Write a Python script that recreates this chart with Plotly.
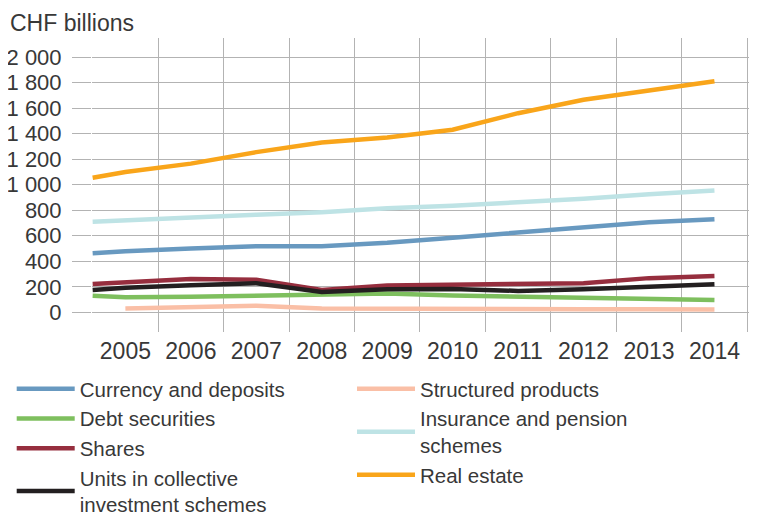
import plotly.graph_objects as go

years = [2004.5, 2005, 2006, 2007, 2008, 2009, 2010, 2011, 2012, 2013, 2014]
sp_years = [2005, 2006, 2007, 2008, 2009, 2010, 2011, 2012, 2013, 2014]

currency = [462, 478, 500, 518, 518, 545, 585, 625, 665, 705, 730]
debt = [130, 118, 122, 130, 140, 148, 132, 122, 118, 105, 97]
shares = [222, 238, 262, 255, 175, 210, 215, 215, 228, 268, 285]
units = [175, 192, 212, 228, 160, 180, 183, 168, 180, 198, 220]
structured = [30, 42, 52, 30, 27, 26, 25, 24, 24, 23]
insurance = [710, 722, 742, 765, 785, 815, 835, 860, 890, 925, 955]
real_estate = [1055, 1100, 1165, 1255, 1330, 1370, 1430, 1560, 1665, 1740, 1810]

year_ticks = [2005, 2006, 2007, 2008, 2009, 2010, 2011, 2012, 2013, 2014]
band_edges = [2004.5 + i for i in range(11)]
y_ticks = list(range(0, 2001, 200))

FONT = "Liberation Sans"
TXT = "#383838"
GRID = "#b3b3b3"

series = [
    ("Currency and deposits", years, currency, "#6899c0", "legend"),
    ("Debt securities", years, debt, "#7ebf5e", "legend"),
    ("Shares", years, shares, "#962e3e", "legend"),
    ("Units in collective<br>investment schemes", years, units, "#231f20", "legend"),
    ("Structured products", sp_years, structured, "#fabfa6", "legend2"),
    ("Insurance and pension<br>schemes", years, insurance, "#bee3e5", "legend2"),
    ("Real estate", years, real_estate, "#f9a51a", "legend2"),
]

fig = go.Figure()
for i, (name, xs, ys, col, lg) in enumerate(series):
    fig.add_trace(go.Scatter(
        x=xs, y=ys, name=name, mode="lines",
        line=dict(color=col, width=4.5),
        legend=lg, legendgroup="g%d" % i,
    ))

# page body has an 8px margin, so the figure is laid out 8px smaller
PW, PH = 665, 294
fig.update_layout(
    width=749, height=507,
    margin=dict(l=84, r=0, t=30, b=183, autoexpand=False),
    paper_bgcolor="white", plot_bgcolor="white",
    separators=". ",
    font=dict(family=FONT, size=21, color=TXT),
    xaxis=dict(
        range=[2004.49, 2014.65], showgrid=False, zeroline=False,
        tickvals=year_ticks, ticks="", ticklabelstandoff=3,
        minor=dict(tickvals=band_edges, showgrid=True, gridcolor=GRID, gridwidth=1.3),
        tickfont=dict(size=23, color=TXT),
    ),
    yaxis=dict(
        range=[-154, 2149], tickvals=y_ticks, tickformat=",d",
        showgrid=True, gridcolor=GRID, gridwidth=1.3, zeroline=False,
        ticks="outside", ticklen=19, tickcolor=GRID, tickwidth=1.3,
        ticklabelstandoff=6,
        tickfont=dict(size=22, color=TXT),
    ),
    legend=dict(x=(11.7 - 92) / PW, y=(332 - 369) / PH, xanchor="left", yanchor="top",
                font=dict(size=20.5, color=TXT), tracegroupgap=0, itemwidth=58,
                bgcolor="rgba(0,0,0,0)"),
    legend2=dict(x=(352 - 92) / PW, y=(332 - 369) / PH, xanchor="left", yanchor="top",
                 font=dict(size=20.5, color=TXT), tracegroupgap=0, itemwidth=58,
                 bgcolor="rgba(0,0,0,0)"),
    annotations=[dict(text="CHF billions", x=(8 - 92) / PW, y=1.0, xref="paper", yref="paper",
                      xanchor="left", yanchor="bottom", showarrow=False, yshift=0,
                      font=dict(size=23, color=TXT))],
)

fig.write_html("out.html")
